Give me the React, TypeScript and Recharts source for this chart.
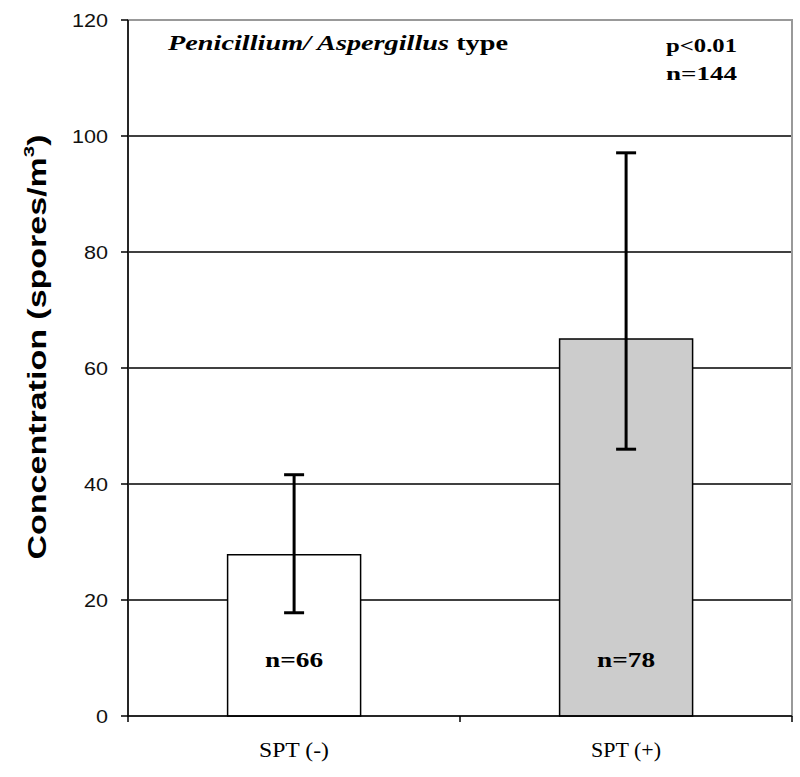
import React from "react";
import {
  BarChart,
  Bar,
  Cell,
  XAxis,
  YAxis,
  CartesianGrid,
  ErrorBar,
  LabelList,
  ReferenceArea,
  Customized,
} from "recharts";

const groups = ["SPT (-)", "SPT (+)"];
const means = [27.8, 65];
const lows = [17.8, 46];
const highs = [41.6, 97.1];
const counts = ["n=66", "n=78"];
const fills = ["#ffffff", "#cccccc"];
const yTicks = [0, 20, 40, 60, 80, 100, 120];

const data = groups.map((g, i) => ({
  group: g,
  mean: means[i],
  err: [means[i] - lows[i], highs[i] - means[i]],
  label: counts[i],
}));

const serif = "Liberation Serif, Times New Roman, serif";
const sans = "Liberation Sans, Arial, sans-serif";
const halfBand = 166;

const YTick = (props: any) => {
  const { x, y, payload } = props;
  const s = String(payload.value);
  return (
    <text
      x={x}
      y={y}
      dy={7}
      textAnchor="end"
      fontFamily={sans}
      fontSize={19}
      fill="#111"
      textLength={s.length * 12}
      lengthAdjust="spacingAndGlyphs"
    >
      {s}
    </text>
  );
};

const XTick = (props: any) => {
  const { x, y, payload, index } = props;
  return (
    <g>
      <line x1={x + halfBand} y1={y} x2={x + halfBand} y2={y + 6} stroke="#000" strokeWidth={1.5} />
      {index === 0 && (
        <line x1={x - halfBand} y1={y} x2={x - halfBand} y2={y + 6} stroke="#000" strokeWidth={1.5} />
      )}
      <text
        x={x}
        y={y}
        dy={41}
        textAnchor="middle"
        fontFamily={serif}
        fontSize={20}
        fill="#000"
        textLength={70}
        lengthAdjust="spacingAndGlyphs"
      >
        {payload.value}
      </text>
    </g>
  );
};

const CountLabel = (props: any) => {
  const { x, y, width, height, value } = props;
  return (
    <text
      x={x + width / 2}
      y={y + height - 49}
      textAnchor="middle"
      fontFamily={serif}
      fontWeight="bold"
      fontSize={20}
      fill="#000"
      textLength={58}
      lengthAdjust="spacingAndGlyphs"
    >
      {value}
    </text>
  );
};

const Annotations = () => (
  <g>
    <text
      x={168}
      y={50}
      fontFamily={serif}
      fontWeight="bold"
      fontSize={22}
      fill="#000"
      textLength={340}
      lengthAdjust="spacingAndGlyphs"
    >
      <tspan fontStyle="italic">Penicillium/ Aspergillus</tspan> type
    </text>
    <text
      x={666}
      y={52}
      fontFamily={serif}
      fontWeight="bold"
      fontSize={19}
      fill="#000"
      textLength={71}
      lengthAdjust="spacingAndGlyphs"
    >
      p&lt;0.01
    </text>
    <text
      x={666}
      y={80}
      fontFamily={serif}
      fontWeight="bold"
      fontSize={19}
      fill="#000"
      textLength={71}
      lengthAdjust="spacingAndGlyphs"
    >
      n=144
    </text>
    <text
      transform="translate(46 347) rotate(-90)"
      textAnchor="middle"
      fontFamily={sans}
      fontWeight="bold"
      fontSize={25}
      fill="#000"
      textLength={425}
      lengthAdjust="spacingAndGlyphs"
    >
      Concentration (spores/m
      <tspan dy={-12} fontSize={15}>3</tspan>
      <tspan dy={12}>)</tspan>
    </text>
  </g>
);

export default function App() {
  return (
    <div style={{ position: "absolute", left: 0, top: 0, background: "#fff" }}>
      <BarChart
        width={800}
        height={777}
        data={data}
        margin={{ top: 20, right: 8, left: 0, bottom: 0 }}
        barCategoryGap="30%"
      >
        <CartesianGrid vertical={false} stroke="#000" strokeWidth={1.5} />
        <ReferenceArea y1={0} y2={120} fill="none" stroke="#999" strokeWidth={2} fillOpacity={0} />
        <XAxis
          dataKey="group"
          height={61}
          axisLine={{ stroke: "#000", strokeWidth: 1.5 }}
          tickLine={false}
          tickSize={0}
          tickMargin={0}
          tick={<XTick />}
        />
        <YAxis
          type="number"
          domain={[0, 120]}
          ticks={yTicks}
          width={128}
          axisLine={{ stroke: "#000", strokeWidth: 1.5 }}
          tickLine={{ stroke: "#000", strokeWidth: 1.5 }}
          tickSize={7}
          tickMargin={13}
          tick={<YTick />}
        />
        <Bar dataKey="mean" stroke="#000" strokeWidth={1.5} isAnimationActive={false}>
          {data.map((d, i) => (
            <Cell key={d.group} fill={fills[i]} />
          ))}
          <ErrorBar dataKey="err" width={10} strokeWidth={3} stroke="#000" />
          <LabelList dataKey="label" content={<CountLabel />} />
        </Bar>
        <Customized component={Annotations} />
      </BarChart>
    </div>
  );
}
